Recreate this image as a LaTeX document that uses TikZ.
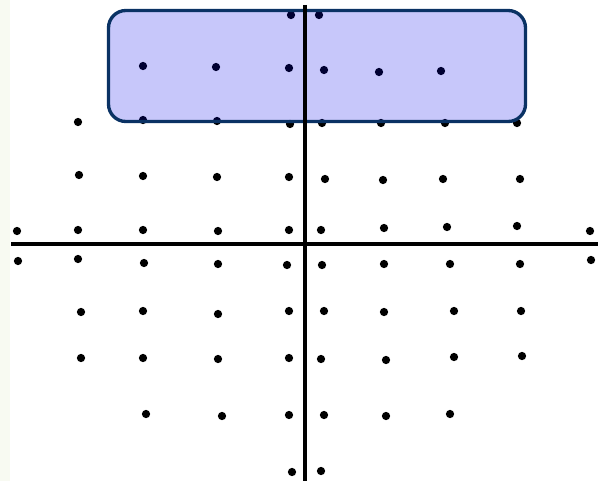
\documentclass[tikz,border=0pt]{standalone}
\definecolor{margintint}{RGB}{248,250,242}
\definecolor{framedraw}{RGB}{10,50,100}
\definecolor{framefill}{RGB}{0,0,230}
\begin{document}
\begin{tikzpicture}[x=0.75pt,y=-0.75pt,
  dot/.style={circle,fill=black,inner sep=0pt,minimum size=6.2pt},
  axis/.style={line width=2.5pt,black},
  frame/.style={rounded corners=13pt,line width=2.5pt,draw=framedraw,
     fill=framefill,fill opacity=0.22}]
\useasboundingbox (0,0) rectangle (598,481);
\fill[margintint] (0,0) rectangle (10,481);
\foreach \x/\y [count=\i] in {291/15,319/15,
  143/66,216/67,289/68,324/70,379/72,441/71,
  78/122,143/120,217/121,290/124,322/123,381/123,445/123,517/123,
  79/175,143/176,217/177,289/177,325/179,383/180,443/179,520/179,
  17/231,78/230,143/230,218/231,289/230,321/230,384/228,447/227,517/226,590/231,
  18/261,78/259,144/263,218/264,287/265,322/265,384/264,450/264,520/264,591/260,
  81/312,143/311,218/314,289/311,324/311,384/312,454/311,521/311,
  81/358,143/358,218/359,289/358,321/359,386/360,454/357,522/356,
  146/414,222/416,289/415,324/415,386/416,450/414,
  292/472,321/471}
  \node[dot] (d\i) at (\x,\y) {};
\draw[frame] (108.5,10.5) rectangle (525.5,121.5);
\coordinate (xl) at (11,244);
\coordinate (xr) at (598,244);
\coordinate (yt) at (305,5);
\coordinate (yb) at (305,481);
\draw[axis] (xl) -- (xr);
\draw[axis] (yt) -- (yb);
\end{tikzpicture}
\end{document}
